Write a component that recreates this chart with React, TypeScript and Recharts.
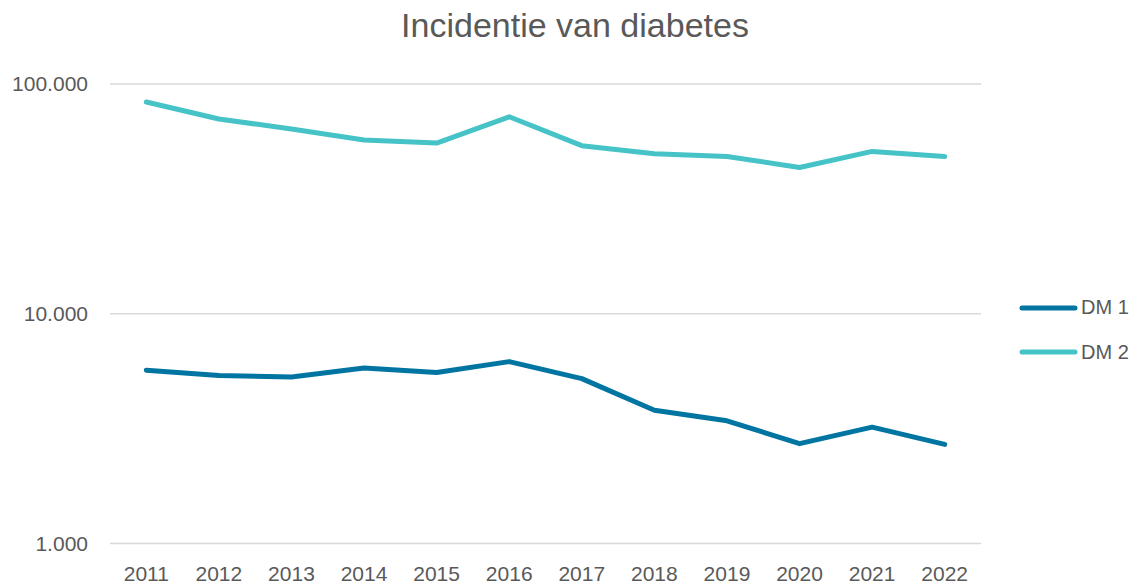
import React from 'react';
import { LineChart, Line, XAxis, YAxis, CartesianGrid } from 'recharts';

const years = ['2011', '2012', '2013', '2014', '2015', '2016', '2017', '2018', '2019', '2020', '2021', '2022'];
const dm1 = [5680, 5380, 5310, 5800, 5550, 6190, 5220, 3800, 3420, 2720, 3210, 2700];
const dm2 = [83500, 70400, 63700, 57000, 55300, 72000, 53900, 49700, 48400, 43300, 50900, 48300];
const yTicks = [1000, 10000, 100000];
const seriesNames = ['DM 1', 'DM 2'];
const seriesColors = ['#0075a2', '#45c3c7'];

const data = years.map((y, i) => ({ year: y, dm1: dm1[i], dm2: dm2[i] }));

const FONT = '"Liberation Sans", Arial, sans-serif';
const TEXT = '#595959';

const fmt = (v: number) => String(Math.round(v)).replace(/\B(?=(\d{3})+(?!\d))/g, '.');

export default function App() {
  return (
    <div style={{ position: 'absolute', left: 0, top: 0, width: 1135, height: 585, background: '#fff', fontFamily: FONT }}>
      <div
        style={{
          position: 'absolute',
          left: 0,
          width: 1150,
          top: 5,
          textAlign: 'center',
          fontSize: 34,
          color: TEXT,
          lineHeight: '40px',
        }}
      >
        Incidentie van diabetes
      </div>
      <LineChart width={1135} height={585} data={data} margin={{ top: 84, right: 154, bottom: 0, left: 0 }}>
        <CartesianGrid vertical={false} stroke="#d9d9d9" strokeWidth={1.5} />
        <XAxis
          dataKey="year"
          axisLine={false}
          tickLine={false}
          tickSize={0}
          tickMargin={23}
          height={41.5}
          interval={0}
          padding={{ left: 36.3, right: 36.3 }}
          tick={{ fill: TEXT, fontSize: 21, fontFamily: FONT }}
        />
        <YAxis
          scale="log"
          domain={[1000, 100000]}
          ticks={yTicks}
          allowDataOverflow
          axisLine={false}
          tickLine={false}
          tickSize={0}
          tickMargin={22}
          width={110}
          tickFormatter={fmt}
          tick={{ fill: TEXT, fontSize: 21, fontFamily: FONT }}
        />
        <Line dataKey="dm1" name={seriesNames[0]} stroke={seriesColors[0]} strokeWidth={5} dot={false} strokeLinecap="round" strokeLinejoin="round" isAnimationActive={false} />
        <Line dataKey="dm2" name={seriesNames[1]} stroke={seriesColors[1]} strokeWidth={5} dot={false} strokeLinecap="round" strokeLinejoin="round" isAnimationActive={false} />
      </LineChart>
      <div style={{ position: 'absolute', left: 1017, top: 295 }}>
        {seriesNames.map((n, i) => (
          <div key={n} style={{ display: 'flex', alignItems: 'center', height: 25, marginBottom: i === 0 ? 19.6 : 0 }}>
            <svg width={62} height={10}>
              <line x1={5} y1={5} x2={58} y2={5} stroke={seriesColors[i]} strokeWidth={5} strokeLinecap="round" />
            </svg>
            <span style={{ fontSize: 20, color: TEXT, marginLeft: 2 }}>{n}</span>
          </div>
        ))}
      </div>
    </div>
  );
}
